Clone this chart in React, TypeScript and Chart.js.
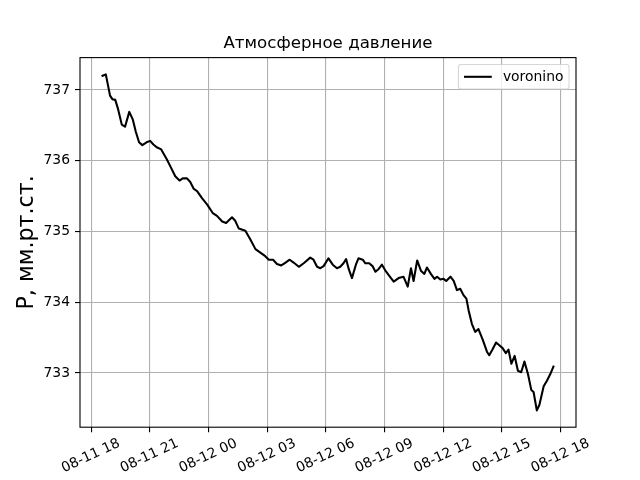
import React, { useEffect, useRef } from 'react';
import { Chart, registerables } from 'chart.js';

Chart.register(...registerables);

const TITLE = 'Атмосферное давление';
const Y_LABEL = 'P, мм.рт.ст.';
const SERIES_LABEL = 'voronino';

const times: string[] = [
  '08-11 18:35', '08-11 18:45', '08-11 18:58', '08-11 19:05', '08-11 19:14', '08-11 19:22',
  '08-11 19:34', '08-11 19:44', '08-11 19:57', '08-11 20:08', '08-11 20:17', '08-11 20:27',
  '08-11 20:37', '08-11 20:50', '08-11 21:01', '08-11 21:11', '08-11 21:21', '08-11 21:35',
  '08-11 21:52', '08-11 22:03', '08-11 22:18', '08-11 22:31', '08-11 22:41', '08-11 22:54',
  '08-11 23:04', '08-11 23:15', '08-11 23:25', '08-11 23:40', '08-11 23:56', '08-12 00:13',
  '08-12 00:26', '08-12 00:42', '08-12 00:54', '08-12 01:12', '08-12 01:22', '08-12 01:33',
  '08-12 01:53', '08-12 02:08', '08-12 02:24', '08-12 02:39', '08-12 02:54', '08-12 03:05',
  '08-12 03:18', '08-12 03:30', '08-12 03:43', '08-12 03:53', '08-12 04:09', '08-12 04:21',
  '08-12 04:37', '08-12 04:52', '08-12 05:12', '08-12 05:22', '08-12 05:33', '08-12 05:43',
  '08-12 05:53', '08-12 06:08', '08-12 06:21', '08-12 06:34', '08-12 06:44', '08-12 06:54',
  '08-12 07:02', '08-12 07:10', '08-12 07:20', '08-12 07:32', '08-12 07:40', '08-12 07:53',
  '08-12 08:01', '08-12 08:13', '08-12 08:23', '08-12 08:32', '08-12 08:42', '08-12 08:52',
  '08-12 09:02', '08-12 09:15', '08-12 09:28', '08-12 09:43', '08-12 09:58', '08-12 10:11',
  '08-12 10:21', '08-12 10:29', '08-12 10:40', '08-12 10:52', '08-12 11:02', '08-12 11:10',
  '08-12 11:22', '08-12 11:33', '08-12 11:41', '08-12 11:51', '08-12 12:01', '08-12 12:09',
  '08-12 12:22', '08-12 12:32', '08-12 12:42', '08-12 12:52', '08-12 13:02', '08-12 13:11',
  '08-12 13:18', '08-12 13:28', '08-12 13:38', '08-12 13:48', '08-12 14:01', '08-12 14:14',
  '08-12 14:21', '08-12 14:31', '08-12 14:42', '08-12 14:52', '08-12 15:02', '08-12 15:12',
  '08-12 15:20', '08-12 15:29', '08-12 15:39', '08-12 15:49', '08-12 15:59', '08-12 16:09',
  '08-12 16:20', '08-12 16:30', '08-12 16:37', '08-12 16:47', '08-12 16:55', '08-12 17:08',
  '08-12 17:18', '08-12 17:28', '08-12 17:38',
];

const pressure: number[] = [
  737.20, 737.22, 736.92, 736.87, 736.86, 736.74,
  736.51, 736.48, 736.69, 736.58, 736.41, 736.26,
  736.22, 736.26, 736.28, 736.23, 736.19, 736.16,
  736.02, 735.92, 735.78, 735.72, 735.75, 735.75,
  735.70, 735.60, 735.57, 735.47, 735.38, 735.26,
  735.22, 735.14, 735.12, 735.20, 735.15, 735.04,
  735.01, 734.89, 734.75, 734.70, 734.65, 734.60,
  734.60, 734.54, 734.52, 734.55, 734.60, 734.56,
  734.50, 734.55, 734.63, 734.60, 734.50, 734.48,
  734.51, 734.62, 734.53, 734.48, 734.50, 734.55,
  734.61, 734.47, 734.34, 734.53, 734.62, 734.60,
  734.55, 734.55, 734.51, 734.43, 734.47, 734.53,
  734.45, 734.37, 734.29, 734.34, 734.36, 734.22,
  734.48, 734.30, 734.59, 734.44, 734.40, 734.49,
  734.40, 734.33, 734.36, 734.32, 734.33, 734.30,
  734.36, 734.30, 734.17, 734.19, 734.10, 734.05,
  733.88, 733.69, 733.58, 733.62, 733.47, 733.30,
  733.25, 733.33, 733.43, 733.39, 733.35, 733.28,
  733.33, 733.13, 733.24, 733.03, 733.01, 733.16,
  732.98, 732.76, 732.73, 732.47, 732.55, 732.81,
  732.89, 732.98, 733.09,
];

const X_TICK_STEP_HOURS = 3;
const yTicks: number[] = [733, 734, 735, 736, 737];

const FONT = "'DejaVu Sans', sans-serif";

// hours since 08-11 00:00
const toHours = (s: string): number => {
  const [md, hm] = s.split(' ');
  const day = Number(md.split('-')[1]);
  const [h, m] = hm.split(':').map(Number);
  return (day - 11) * 24 + h + m / 60;
};

const fmtTick = (v: number): string => {
  const day = 11 + Math.floor(v / 24);
  const h = ((v % 24) + 24) % 24;
  return `08-${String(day).padStart(2, '0')} ${String(Math.round(h)).padStart(2, '0')}`;
};

const withMargin = (vals: number[], frac = 0.05): [number, number] => {
  const mn = Math.min(...vals);
  const mx = Math.max(...vals);
  const d = (mx - mn) * frac;
  return [mn - d, mx + d];
};

const framePlugin = {
  id: 'mplFrame',
  afterDatasetsDraw(chart: any) {
    const { ctx, chartArea: a } = chart;
    ctx.save();
    ctx.strokeStyle = '#000';
    ctx.lineWidth = 1.1;
    ctx.strokeRect(a.left, a.top, a.right - a.left, a.bottom - a.top);
    ctx.restore();
  },
};

const legendPlugin = {
  id: 'mplLegend',
  afterDraw(chart: any) {
    const { ctx, chartArea: a } = chart;
    const ds = chart.data.datasets[0];
    const fs = 13.9;
    ctx.save();
    ctx.font = `${fs}px ${FONT}`;
    const tw = ctx.measureText(ds.label).width;
    const pad = 0.4 * fs;
    const handle = 2.0 * fs;
    const gap = 0.8 * fs;
    const w = pad * 2 + handle + gap + tw;
    const h = 24.5;
    const right = a.right - 0.5 * fs;
    const top = a.top + 0.5 * fs;
    const left = right - w;
    const r = 2.8;
    ctx.beginPath();
    ctx.moveTo(left + r, top);
    ctx.lineTo(right - r, top);
    ctx.arcTo(right, top, right, top + r, r);
    ctx.lineTo(right, top + h - r);
    ctx.arcTo(right, top + h, right - r, top + h, r);
    ctx.lineTo(left + r, top + h);
    ctx.arcTo(left, top + h, left, top + h - r, r);
    ctx.lineTo(left, top + r);
    ctx.arcTo(left, top, left + r, top, r);
    ctx.closePath();
    ctx.fillStyle = 'rgba(255,255,255,0.8)';
    ctx.fill();
    ctx.strokeStyle = 'rgba(204,204,204,0.8)';
    ctx.lineWidth = 1.1;
    ctx.stroke();
    const cy = top + h / 2;
    ctx.beginPath();
    ctx.moveTo(left + pad, cy);
    ctx.lineTo(left + pad + handle, cy);
    ctx.strokeStyle = ds.borderColor;
    ctx.lineWidth = ds.borderWidth;
    ctx.stroke();
    ctx.fillStyle = '#000';
    ctx.textBaseline = 'middle';
    ctx.textAlign = 'left';
    ctx.fillText(ds.label, left + pad + handle + gap, cy + 0.5);
    ctx.restore();
  },
};

const bgPlugin = {
  id: 'whiteBg',
  beforeDraw(chart: any) {
    const { ctx, width, height } = chart;
    ctx.save();
    ctx.fillStyle = '#fff';
    ctx.fillRect(0, 0, width, height);
    ctx.restore();
  },
};

export default function App() {
  const ref = useRef<HTMLCanvasElement | null>(null);

  useEffect(() => {
    if (!ref.current) return;
    const xs = times.map(toHours);
    const [xMin, xMax] = withMargin(xs);
    const [yMin, yMax] = withMargin(pressure);
    const points = xs.map((x, i) => ({ x, y: pressure[i] }));

    Chart.defaults.color = '#000';
    Chart.defaults.font.family = FONT;

    const chart = new Chart(ref.current, {
      type: 'line',
      data: {
        datasets: [
          {
            label: SERIES_LABEL,
            data: points,
            borderColor: '#000',
            borderWidth: 2.08,
            pointRadius: 0,
            tension: 0,
            fill: false,
            borderJoinStyle: 'round',
            borderCapStyle: 'square',
          },
        ],
      },
      options: {
        animation: false,
        responsive: false,
        devicePixelRatio: 1,
        layout: { padding: { left: 0, right: 64, top: 0, bottom: 0 } },
        plugins: {
          legend: { display: false },
          tooltip: { enabled: false },
          title: {
            display: true,
            fullSize: false,
            text: TITLE,
            font: { family: FONT, size: 16.67, weight: 'normal' },
            color: '#000',
            padding: { top: 33.5, bottom: 4.1 },
          },
        },
        scales: {
          x: {
            type: 'linear',
            min: xMin,
            max: xMax,
            afterBuildTicks: (scale: any) => {
              const ticks = [];
              for (let v = Math.ceil(xMin / X_TICK_STEP_HOURS) * X_TICK_STEP_HOURS; v <= xMax; v += X_TICK_STEP_HOURS) {
                ticks.push({ value: v });
              }
              scale.ticks = ticks;
            },
            afterFit: (scale: any) => {
              scale.height = 52.8;
            },
            grid: {
              color: '#b0b0b0',
              lineWidth: 1.1,
              tickColor: '#000',
              tickLength: 5,
              tickWidth: 1.1,
            },
            border: { display: false },
            ticks: {
              autoSkip: false,
              minRotation: 25,
              maxRotation: 25,
              labelOffset: 28,
              padding: 3,
              color: '#000',
              font: { family: FONT, size: 13.9 },
              callback: (v: any) => fmtTick(Number(v)),
            },
          },
          y: {
            type: 'linear',
            min: yMin,
            max: yMax,
            afterBuildTicks: (scale: any) => {
              scale.ticks = yTicks.map((v) => ({ value: v }));
            },
            afterFit: (scale: any) => {
              scale.width = 80;
            },
            grid: {
              color: '#b0b0b0',
              lineWidth: 1.1,
              tickColor: '#000',
              tickLength: 5,
              tickWidth: 1.1,
            },
            border: { display: false },
            ticks: {
              padding: 5,
              color: '#000',
              font: { family: FONT, size: 13.9 },
              callback: (v: any) => String(v),
            },
            title: {
              display: true,
              text: Y_LABEL,
              color: '#000',
              font: { family: FONT, size: 22.2 },
              padding: { top: 13.7, bottom: 0 },
            },
          },
        },
      },
      plugins: [bgPlugin, framePlugin, legendPlugin],
    } as any);

    return () => chart.destroy();
  }, []);

  return (
    <div style={{ position: 'absolute', left: 0, top: 0, width: 640, height: 480 }}>
      <canvas ref={ref} width={640} height={480} style={{ display: 'block' }} />
    </div>
  );
}
